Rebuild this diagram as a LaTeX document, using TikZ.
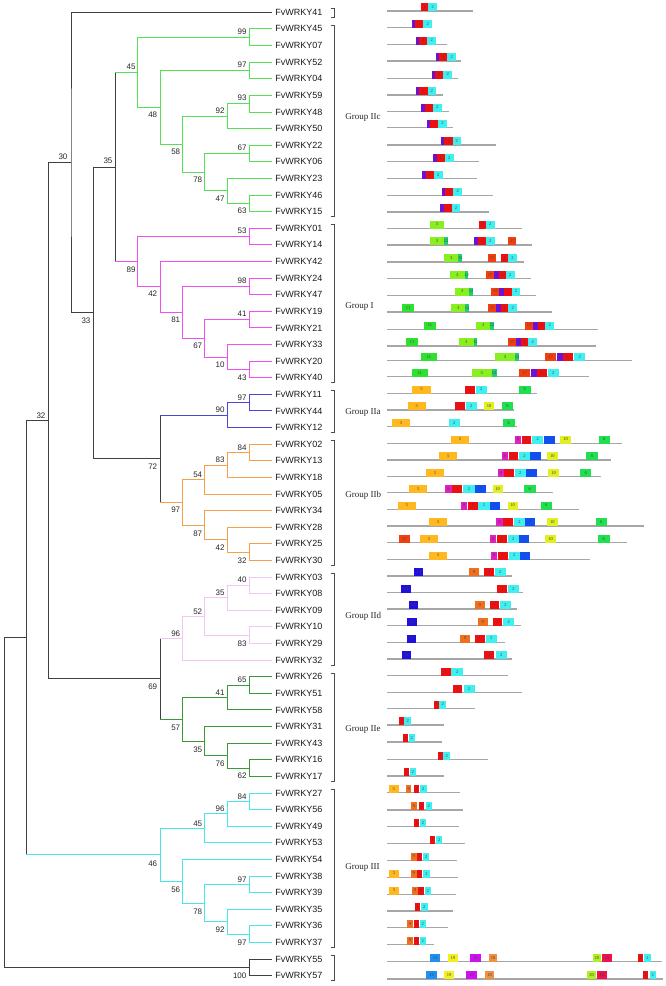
\documentclass[tikz,border=0pt]{standalone}
\usepackage{fontspec}
\setmainfont{Liberation Serif}
\newfontfamily\arialf{Liberation Sans}
\definecolor{tgray}{HTML}{404040}
\definecolor{tIIc}{HTML}{55E055}
\definecolor{tI}{HTML}{F050F0}
\definecolor{tIIa}{HTML}{4848D0}
\definecolor{tIIb}{HTML}{F5A04A}
\definecolor{tIId}{HTML}{F2C8F2}
\definecolor{tIIe}{HTML}{3A9A3A}
\definecolor{tIII}{HTML}{44E8E8}
\definecolor{m1}{HTML}{EE1010}
\definecolor{m2}{HTML}{40F0F0}
\definecolor{m3}{HTML}{88F020}
\definecolor{m4}{HTML}{7010E0}
\definecolor{m5}{HTML}{FFB820}
\definecolor{m6}{HTML}{20E050}
\definecolor{m7}{HTML}{1050F0}
\definecolor{m8}{HTML}{E020C0}
\definecolor{m9}{HTML}{F07020}
\definecolor{m10}{HTML}{E0F020}
\definecolor{m11}{HTML}{30E030}
\definecolor{m12}{HTML}{20D070}
\definecolor{m13}{HTML}{2090F0}
\definecolor{m14}{HTML}{2010E0}
\definecolor{m15}{HTML}{D010F0}
\definecolor{m16}{HTML}{F01050}
\definecolor{m17}{HTML}{F04010}
\definecolor{m18}{HTML}{F09040}
\definecolor{m19}{HTML}{F0F020}
\definecolor{m20}{HTML}{B0F020}
\newcommand\nd[4]{\draw[#1] (#3) -| (#2) |- (#4);}
\newcommand\vt[4]{\draw[#1] (#2 |- #3) -- (#2 |- #4);}
\newcommand\st[3]{\draw[#1] (#2 |- #3) -- (#3);}
\newcommand\mrow[3]{%
  \draw[mline] (387.3,#1) -- (#2,#1);
  \foreach \xa/\xb/\mcol/\mlab in {#3} {
    \fill[\mcol] (\xa,#1-7.8) rectangle (\xb,#1+0.3);
    \node[mtxt] at ({(\xa+\xb)/2},#1-3.8) {\mlab};
  }%
}
\begin{document}
\begin{tikzpicture}[x=1pt,y=-1pt,
  every path/.style={line width=0.9pt,line cap=rect},
  leaf/.style={font=\arialf\fontsize{9}{10}\selectfont,anchor=west,inner sep=0pt,text=black!90},
  bs/.style={font=\arialf\fontsize{8}{9}\selectfont,inner sep=0pt,text=black!85},
  grp/.style={font=\fontsize{9}{10}\selectfont,anchor=west,inner sep=0pt,text=black!85},
  brk/.style={draw=black!70,line width=0.8pt,line cap=butt},
  mline/.style={draw=black!35,line width=1.3pt,line cap=butt},
  mtxt/.style={font=\fontsize{4.5}{5}\selectfont,inner sep=0pt,text=black!75}]
\useasboundingbox (0,0) rectangle (666,986);
% leaves
\foreach \g [count=\i from 0] in {41,45,07,52,04,59,48,50,22,06,23,46,15,01,14,42,24,47,19,21,33,20,40,11,44,12,02,13,18,05,34,28,25,30,03,08,09,10,29,32,26,51,58,31,43,16,17,27,56,49,53,54,38,39,35,36,37,55,57}{
  \coordinate (w\g) at (271.7,{12.3+16.61*\i});
  \node[leaf] (t\g) at (275,{12.3+16.61*\i}) {FvWRKY\g};
}
% internal nodes
\coordinate (nA) at (249.7,37.2);
\coordinate (nB) at (249.7,70.4);
\coordinate (nC) at (249.7,103.7);
\coordinate (nD) at (227.3,116.15);
\coordinate (nE) at (249.7,153.5);
\coordinate (nF) at (249.7,203.3);
\coordinate (nG) at (227.3,190.85);
\coordinate (nH) at (204.7,172.2);
\coordinate (nI) at (182.7,144.2);
\coordinate (nJ) at (160.7,107.3);
\coordinate (nK) at (137.7,72.25);
\coordinate (nL) at (249.7,236.5);
\coordinate (nM) at (249.7,286.4);
\coordinate (nN) at (249.7,319.6);
\coordinate (nO) at (249.7,369.4);
\coordinate (nP) at (227.3,356.95);
\coordinate (nQ) at (204.7,338.3);
\coordinate (nR) at (182.7,312.35);
\coordinate (nS) at (160.7,286.9);
\coordinate (nT) at (137.7,261.7);
\coordinate (nU) at (115,167.0);
\coordinate (nV) at (249.7,402.6);
\coordinate (nW) at (227.3,415.1);
\coordinate (nX) at (249.7,452.5);
\coordinate (nY) at (227.3,464.95);
\coordinate (nZ) at (204.7,479.5);
\coordinate (nAA) at (249.7,552.1);
\coordinate (nAB) at (227.3,539.65);
\coordinate (nAC) at (204.7,525.1);
\coordinate (nAD) at (182.7,502.3);
\coordinate (nAE) at (160.7,458.7);
\coordinate (nAF) at (93.3,312.85);
\coordinate (nAG) at (71,162.6);
\coordinate (nAH) at (249.7,585.35);
\coordinate (nAI) at (227.3,597.8);
\coordinate (nAJ) at (249.7,635.2);
\coordinate (nAK) at (204.7,616.5);
\coordinate (nAL) at (182.7,638.3);
\coordinate (nAM) at (249.7,685.0);
\coordinate (nAN) at (227.3,697.45);
\coordinate (nAO) at (249.7,768.1);
\coordinate (nAP) at (227.3,755.6);
\coordinate (nAQ) at (204.7,741.05);
\coordinate (nAR) at (182.7,719.25);
\coordinate (nAS) at (160.7,678.8);
\coordinate (nAT) at (48.3,420.7);
\coordinate (nAU) at (249.7,801.3);
\coordinate (nAV) at (227.3,813.75);
\coordinate (nAW) at (204.7,828.3);
\coordinate (nAX) at (249.7,884.3);
\coordinate (nAY) at (249.7,934.2);
\coordinate (nAZ) at (227.3,921.7);
\coordinate (nBA) at (204.7,903.0);
\coordinate (nBB) at (182.7,881.2);
\coordinate (nBC) at (160.7,854.75);
\coordinate (nBD) at (26,637.7);
\coordinate (nBE) at (249.7,967.4);
\coordinate (nR0) at (4,802.55);
% backbone (gray)
\vt{tgray}{nR0}{nBD}{nBE}
\st{tgray}{nR0}{nBD}
\st{tgray}{nR0}{nBE}
\nd{tgray}{nBE}{w55}{w57}
\vt{tgray}{nBD}{nAT}{nBC}
\st{tgray}{nBD}{nAT}
\nd{tgray}{nAT}{nAG}{nAS}
\nd{tgray}{nAG}{w41}{nAF}
\nd{tgray}{nAF}{nU}{nAE}
\vt{tgray}{nU}{nK}{nT}
\vt{tgray}{nAE}{nW}{nAD}
\vt{tgray}{nAS}{nAL}{nAR}
% Group IIc
\st{tIIc}{nU}{nK}
\nd{tIIc}{nA}{w45}{w07}
\nd{tIIc}{nB}{w52}{w04}
\nd{tIIc}{nC}{w59}{w48}
\nd{tIIc}{nD}{nC}{w50}
\nd{tIIc}{nE}{w22}{w06}
\nd{tIIc}{nF}{w46}{w15}
\nd{tIIc}{nG}{w23}{nF}
\nd{tIIc}{nH}{nE}{nG}
\nd{tIIc}{nI}{nD}{nH}
\nd{tIIc}{nJ}{nB}{nI}
\nd{tIIc}{nK}{nA}{nJ}
% Group I
\st{tI}{nU}{nT}
\nd{tI}{nL}{w01}{w14}
\nd{tI}{nM}{w24}{w47}
\nd{tI}{nN}{w19}{w21}
\nd{tI}{nO}{w20}{w40}
\nd{tI}{nP}{w33}{nO}
\nd{tI}{nQ}{nN}{nP}
\nd{tI}{nR}{nM}{nQ}
\nd{tI}{nS}{w42}{nR}
\nd{tI}{nT}{nL}{nS}
% Group IIa
\st{tIIa}{nAE}{nW}
\nd{tIIa}{nV}{w11}{w44}
\nd{tIIa}{nW}{nV}{w12}
% Group IIb
\st{tIIb}{nAE}{nAD}
\nd{tIIb}{nX}{w02}{w13}
\nd{tIIb}{nY}{nX}{w18}
\nd{tIIb}{nZ}{nY}{w05}
\nd{tIIb}{nAA}{w25}{w30}
\nd{tIIb}{nAB}{w28}{nAA}
\nd{tIIb}{nAC}{w34}{nAB}
\nd{tIIb}{nAD}{nZ}{nAC}
% Group IId
\st{tIId}{nAS}{nAL}
\nd{tIId}{nAH}{w03}{w08}
\nd{tIId}{nAI}{nAH}{w09}
\nd{tIId}{nAJ}{w10}{w29}
\nd{tIId}{nAK}{nAI}{nAJ}
\nd{tIId}{nAL}{nAK}{w32}
% Group IIe
\st{tIIe}{nAS}{nAR}
\nd{tIIe}{nAM}{w26}{w51}
\nd{tIIe}{nAN}{nAM}{w58}
\nd{tIIe}{nAO}{w16}{w17}
\nd{tIIe}{nAP}{w43}{nAO}
\nd{tIIe}{nAQ}{w31}{nAP}
\nd{tIIe}{nAR}{nAN}{nAQ}
% Group III
\st{tIII}{nBD}{nBC}
\nd{tIII}{nAU}{w27}{w56}
\nd{tIII}{nAV}{nAU}{w49}
\nd{tIII}{nAW}{nAV}{w53}
\nd{tIII}{nAX}{w38}{w39}
\nd{tIII}{nAY}{w36}{w37}
\nd{tIII}{nAZ}{w35}{nAY}
\nd{tIII}{nBA}{nAX}{nAZ}
\nd{tIII}{nBB}{w54}{nBA}
\nd{tIII}{nBC}{nAW}{nBB}
% bootstrap values
\foreach \bx/\by/\bv [count=\k] in {63/157/30, 108/161/35, 86/320.7/33, 41/415.7/32, 131/66.7/45, 152.7/115/48, 175.7/151.7/58, 197.7/180/78, 220/198.3/47, 242/210.7/63, 242/31.7/99, 242/65/97, 242/98/93, 220/110.7/92, 242/148/67, 242/231/53, 131/269.3/89, 152.7/294/42, 175.7/320/81, 197.7/345.7/67, 220/364.3/10, 242/377.3/43, 242/281/98, 242/314/41, 242/397.3/97, 220/410/90, 242/447.3/84, 220/460/83, 197.7/474.3/54, 152.7/466.7/72, 175.7/510/97, 197.7/533.3/87, 220/547.7/42, 242/560.7/32, 242/580/40, 220/592.7/35, 197.7/611.7/52, 175.7/633.3/96, 242/643.3/83, 242/680/65, 220/692.7/41, 152.7/686.7/69, 175.7/727.3/57, 197.7/750/35, 220/764/76, 242/776/62, 242/796.7/84, 220/809/96, 197.7/824/45, 152.7/863.3/46, 175.7/890/56, 197.7/911.7/78, 242/879.3/97, 220/930/92, 242/942.3/97, 239.7/975.7/100}{
  \node[bs] (bs\k) at (\bx,\by) {\bv};
}
% brackets
\foreach \ra/\rb in {0/0,1/12,13/22,23/25,26/33,34/39,40/46,47/56,57/58}{
  \draw[brk] (330.5,{12.3+16.61*\ra-3.8}) -- (334,{12.3+16.61*\ra-3.8}) -- (334,{12.3+16.61*\rb+5}) -- (330.5,{12.3+16.61*\rb+5});
}
\node[grp] (gIIc) at (345,117.3) {Group IIc};
\node[grp] (gI) at (345,306) {Group I};
\node[grp] (gIIa) at (345,412.3) {Group IIa};
\node[grp] (gIIb) at (345,495) {Group IIb};
\node[grp] (gIId) at (345,616) {Group IId};
\node[grp] (gIIe) at (345,729) {Group IIe};
\node[grp] (gIII) at (345,867.7) {Group III};
% motif rows
\mrow{11}{472.7}{420.7/428.3/m1/1, 428.3/437.3/m2/2}
\mrow{27.7}{432.3}{411.7/415.3/m4/4, 415.3/423.3/m1/1, 423.3/432.3/m2/2}
\mrow{44.3}{446.7}{415.7/419/m4/4, 419/427.3/m1/1, 427.3/436/m2/2}
\mrow{61}{461}{435.7/439.3/m4/4, 439.3/447.3/m1/1, 447.3/456/m2/2}
\mrow{78.3}{457.7}{431.7/435.3/m4/4, 435.3/443.3/m1/1, 443.3/452.3/m2/2}
\mrow{95}{442.7}{415.7/419.3/m4/4, 419.3/427.7/m1/1, 427.7/436/m2/2}
\mrow{111.3}{449.3}{421/424.7/m4/4, 424.7/432.7/m1/1, 432.7/441.7/m2/2}
\mrow{127.3}{452.7}{426.7/430/m4/4, 430/438.3/m1/1, 438.3/446.7/m2/2}
\mrow{145}{495.7}{440.7/444.3/m4/4, 444.3/452.7/m1/1, 452.7/461/m2/2}
\mrow{161.7}{478.7}{433/436.7/m4/4, 436.7/445/m1/1, 445/453.7/m2/2}
\mrow{178.7}{477.3}{422/425.7/m4/4, 425.7/434/m1/1, 434/442.7/m2/2}
\mrow{195.3}{493}{441.7/445.3/m4/4, 445.3/453.3/m1/1, 453.3/462.3/m2/2}
\mrow{212}{489.3}{440/443.7/m4/4, 443.7/451.7/m1/1, 451.7/460.3/m2/2}
\mrow{228.3}{521.7}{430/444/m3/3, 478.7/486/m1/1, 486/494.7/m2/2}
\mrow{245}{532.3}{430/444/m3/3, 444/448.3/m12/12, 473.7/478/m4/4, 478/486/m1/1, 486/494.7/m2/2, 508.3/516.3/m17/17}
\mrow{262}{524.3}{444/458.3/m3/3, 458.3/462.3/m12/12, 488.3/496/m17/17, 500.7/508.3/m1/1, 508.3/516.7/m2/2}
\mrow{278.7}{530.7}{450/464.7/m3/3, 464.7/468.3/m12/12, 486/494/m17/17, 494/498.7/m4/4, 498.7/506/m1/1, 506/514.7/m2/2}
\mrow{295.3}{536}{455/469.3/m3/3, 469.3/473/m12/12, 491.3/499.3/m17/17, 499.3/503.7/m4/4, 503.7/511.7/m1/1, 511.7/520.3/m2/2}
\mrow{312}{551.7}{402.3/414/m11/11, 451/465.3/m3/3, 465.3/469/m12/12, 488.3/496.3/m17/17, 496.3/500.7/m4/4, 500.7/508.3/m1/1, 508.3/517/m2/2}
\mrow{329.3}{597.7}{424/436/m11/11, 476/490.3/m3/3, 490.3/494/m12/12, 525/533.3/m17/17, 533.3/537.7/m4/4, 537.7/545.3/m1/1, 545.3/554/m2/2}
\mrow{346}{596}{406.3/418/m11/11, 459/473.7/m3/3, 473.7/477/m12/12, 508/516.3/m17/17, 516.3/520.7/m4/4, 520.7/528.3/m1/1, 528.3/537.3/m2/2}
\mrow{360.5}{632.3}{421/437/m11/11, 495/515/m3/3, 515/519.3/m12/12, 545/556/m17/17, 557/562.7/m4/4, 562.7/572.7/m1/1, 574.3/585.3/m2/2}
\mrow{376.7}{589.3}{411.7/427.7/m11/11, 472/491.7/m3/3, 491.7/496.7/m12/12, 518.7/530.3/m17/17, 531/536.7/m4/4, 536.7/546.7/m1/1, 547.7/559/m2/2}
\mrow{393.3}{536.7}{412.3/430.7/m5/5, 465/475/m1/1, 475.7/486.7/m2/2, 519/530.7/m6/6}
\mrow{410}{514.3}{407.7/426/m5/5, 454.7/465/m1/1, 465.7/477/m2/2, 484/494/m10/10, 501.7/513.3/m6/6}
\mrow{426.7}{516.7}{392.3/410/m5/5, 448.7/460/m2/2, 503/514.7/m6/6}
\mrow{443.3}{621.7}{450.7/469.3/m5/5, 515/521/m8/8, 521.7/531/m1/1, 532.3/543.3/m2/2, 544/554.7/m7/7, 560/571/m10/10, 598.7/610/m6/6}
\mrow{460}{610.7}{439.3/457.3/m5/5, 501.7/508/m8/8, 508.7/518/m1/1, 518.7/530.3/m2/2, 530.3/541.3/m7/7, 547/557.7/m10/10, 586.3/598/m6/6}
\mrow{476.7}{601}{426/444/m5/5, 497.7/503.7/m8/8, 504.3/514/m1/1, 514.7/526/m2/2, 526/536.7/m7/7, 548.3/559/m10/10, 580/591.3/m6/6}
\mrow{492.7}{553.3}{409/427.3/m5/5, 445.3/451.7/m8/8, 452.3/462/m1/1, 463.3/475/m2/2, 475/485.7/m7/7, 492.7/502.7/m10/10, 524/535.7/m6/6}
\mrow{509.3}{579}{397.7/416/m5/5, 461.3/467.3/m8/8, 468/477.7/m1/1, 478.3/489.7/m2/2, 489.7/500/m7/7, 507.7/517.7/m10/10, 540.7/552/m6/6}
\mrow{526}{644.3}{429/447.3/m5/5, 496.3/502.7/m8/8, 503.3/513.3/m1/1, 514/525/m2/2, 525/535.3/m7/7, 547/557.7/m10/10, 595.7/607/m6/6}
\mrow{542.7}{627.3}{398.7/410/m17/17, 420/438.3/m5/5, 490.3/496.3/m8/8, 497/507/m1/1, 507.7/519/m2/2, 519/529.3/m7/7, 545.3/555.7/m10/10, 598/609.7/m6/6}
\mrow{559.3}{590}{429/447.3/m5/5, 491.3/497.3/m8/8, 498/508/m1/1, 508.7/519.7/m2/2, 519.7/530.3/m7/7}
\mrow{576}{511.7}{414.3/423.3/m14/14, 469.3/479.3/m9/9, 484.3/494/m1/1, 494.7/506/m2/2}
\mrow{592.7}{522.7}{401.3/410.7/m14/14, 497.3/507/m1/1, 508/519/m2/2}
\mrow{609}{517.3}{408.7/417.7/m14/14, 474.7/484.7/m9/9, 489.7/499/m1/1, 499.7/511.3/m2/2}
\mrow{625.7}{520.7}{407.3/416.7/m14/14, 477.7/487.7/m9/9, 492.7/502/m1/1, 503/514.3/m2/2}
\mrow{642.3}{505}{406.7/415.7/m14/14, 460/470/m9/9, 475/484.7/m1/1, 485.7/496.7/m2/2}
\mrow{659}{511.7}{401.7/411/m14/14, 484.3/494/m1/1, 495.7/507/m2/2}
\mrow{675.7}{508}{441/450.7/m1/1, 451.3/463.3/m2/2}
\mrow{692.3}{522}{452.7/462.3/m1/1, 463.7/475/m2/2}
\mrow{708.3}{475}{434/439/m1/1, 439.3/446/m2/2}
\mrow{725}{444.3}{399.3/404/m1/1, 404.3/411/m2/2}
\mrow{742}{441.7}{403/408/m1/1, 408.7/415/m2/2}
\mrow{759.3}{488.3}{438/443/m1/1, 443.3/450/m2/2}
\mrow{776}{443.7}{404.3/409.3/m1/1, 409.7/416/m2/2}
\mrow{792.7}{459.7}{388.7/399/m5/5, 406/411.3/m9/9, 414.3/419.3/m1/1, 419.7/426.7/m2/2}
\mrow{810}{462.7}{411/416.7/m9/9, 419.3/424.3/m1/1, 425.7/431.7/m2/2}
\mrow{826.7}{459}{414.3/419.3/m1/1, 419.7/426.3/m2/2}
\mrow{843.3}{465}{430.3/435.3/m1/1, 436/442.3/m2/2}
\mrow{860.3}{456.7}{410.7/416.7/m9/9, 417/422/m1/1, 423/429.3/m2/2}
\mrow{877.3}{457.7}{389.3/399.3/m5/5, 410.7/416.7/m9/9, 417/422/m1/1, 423.3/429.7/m2/2}
\mrow{894.3}{456.3}{389.3/399.3/m5/5, 412/418/m9/9, 418.3/423.7/m1/1, 424.7/431/m2/2}
\mrow{911}{452.7}{415/420.3/m1/1, 421/427.7/m2/2}
\mrow{927.7}{448}{407/413/m9/9, 413.7/419/m1/1, 419.7/426/m2/2}
\mrow{944.3}{434.3}{407/413/m9/9, 413.7/419/m1/1, 419.7/426/m2/2}
\mrow{961.7}{661.7}{430/440.3/m13/13, 448/457.7/m19/19, 470/480.7/m15/15, 489/497.3/m18/18, 592.7/601/m20/20, 602.3/611.7/m16/16, 638.3/643.3/m1/1, 644.3/650.7/m2/2}
\mrow{979}{662.7}{426/436.7/m13/13, 444.3/454/m19/19, 466.3/476.7/m15/15, 485.3/493.7/m18/18, 587.3/596/m20/20, 597/606.7/m16/16, 643.3/648.3/m1/1, 649.7/656/m2/2}
\end{tikzpicture}
\end{document}
